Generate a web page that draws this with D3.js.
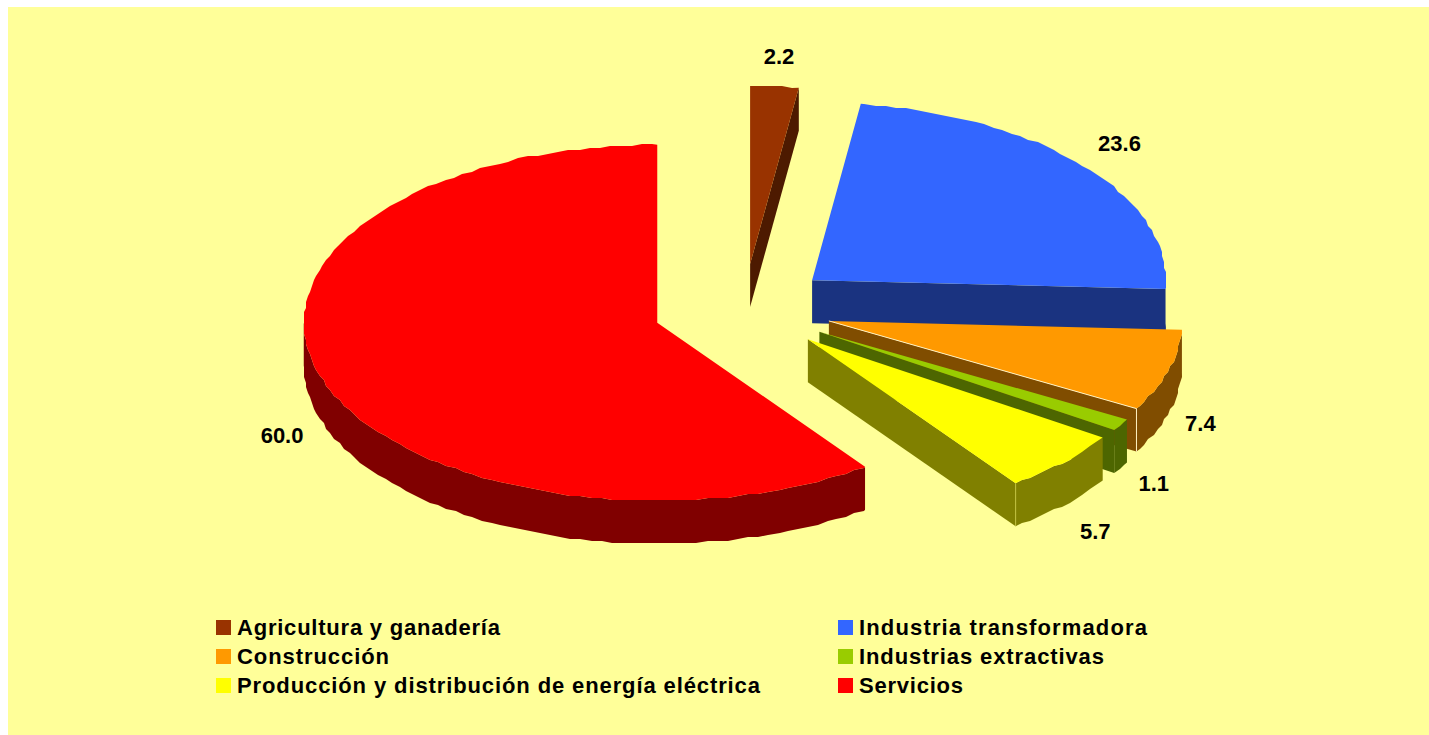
<!DOCTYPE html>
<html>
<head>
<meta charset="utf-8">
<script src="https://cdnjs.cloudflare.com/ajax/libs/d3/7.8.5/d3.min.js"></script>
<style>
html, body { margin: 0; padding: 0; background: #fff; }
svg { display: block; }
text { font-family: "Liberation Sans", Arial, sans-serif; font-weight: bold; fill: #000; }
</style>
</head>
<body>
<div id="chart"></div>
<script>
var categories = ["Agricultura y ganadería", "Industria transformadora", "Construcción", "Industrias extractivas", "Producción y distribución de energía eléctrica", "Servicios"];
var values = [2.2, 23.6, 7.4, 1.1, 5.7, 60.0];
var colors = ["#993300", "#3366FF", "#FF9900", "#99CC00", "#FFFF00", "#FF0000"];

// how far each slice is pulled out, as a fraction of the radius
var explode = [0.25, 0.25, 0.25, 0.25, 0.25, 0.258];
// value label shift from the middle of the rim
var labelDx = [4.5, 35, 32, 33, 32, -39];
var labelDy = [-30.5, -23, 53, 59, 69, 58];
// the legend text is spaced out to these widths
var legendWidths = [263, 288, 152, 245, 523, 104];
// thin light edges some of the slices have
var edgeColors = [null, null, "#FFF0C0", null, "#C0C040", null];

var width = 1429, height = 735;
var depth = 43;
var rimStep = 0.03;

var svg = d3.select("#chart").append("svg")
	.attr("width", width)
	.attr("height", height);

svg.append("rect")
	.attr("x", 8)
	.attr("y", 7)
	.attr("width", width - 8)
	.attr("height", height - 7)
	.style("fill", "#FFFF99");

// unit circle -> screen, the pie is flattened to an ellipse
var xScale = d3.scaleLinear().domain([-1, 1]).range([744 - 353.5, 744 + 353.5]);
var yScale = d3.scaleLinear().domain([-1, 1]).range([308.5 - 178, 308.5 + 178]);

var pie = d3.pie().sort(null).value(function(d) { return d; });
var slices = pie(values);

var line = d3.line();

function rimPoint(a, ox, oy) {
	return [xScale(Math.sin(a) + ox), yScale(-Math.cos(a) + oy)];
}

// rim points, rounded to a coarse grid so the curve is a bit stepped.
// the angles sit on one shared grid so top face and wall follow the same edge
function rim(a0, a1, ox, oy, drop) {
	var first = Math.ceil(a0 / rimStep + 0.01), last = Math.floor(a1 / rimStep - 0.01);
	var pts = d3.range(first, last + 1).map(function(k) {
		var p = rimPoint(k * rimStep, ox, oy);
		return [Math.round(p[0] / 2) * 2, Math.round(p[1] / 2) * 2 + drop];
	});
	var s = rimPoint(a0, ox, oy), e = rimPoint(a1, ox, oy);
	return [[s[0], s[1] + drop]].concat(pts, [[e[0], e[1] + drop]]);
}

slices.forEach(function(d, i) {
	var mid = (d.startAngle + d.endAngle) / 2;
	var ox = Math.sin(mid) * explode[i];
	var oy = -Math.cos(mid) * explode[i];
	d.labelAt = rimPoint(mid, ox, oy);
	var apex = [xScale(ox), yScale(oy)];
	var g = svg.append("g").attr("class", "slice");
	var dark = d3.rgb(colors[i]);
	dark = d3.rgb(dark.r / 2, dark.g / 2, dark.b / 2).formatHex();

	// cut face at the end of the slice
	var e = rimPoint(d.endAngle, ox, oy);
	if (Math.sin(d.endAngle) > 0.001) {
		g.append("path")
			.attr("d", line([apex, e, [e[0], e[1] + depth], [apex[0], apex[1] + depth]]) + "Z")
			.style("fill", dark);
	}
	// outer wall, only the part facing the viewer
	var a0 = Math.max(d.startAngle, Math.PI / 2);
	var a1 = Math.min(d.endAngle, 3 * Math.PI / 2);
	if (a1 > a0) {
		var top = rim(a0, a1, ox, oy, 0);
		var bottom = rim(a0, a1, ox, oy, depth).reverse();
		g.append("path")
			.attr("d", line(top.concat(bottom)) + "Z")
			.style("fill", dark);
	}
	// top face
	g.append("path")
		.attr("d", line([apex].concat(rim(d.startAngle, d.endAngle, ox, oy, 0))) + "Z")
		.style("fill", colors[i]);

	if (edgeColors[i]) {
		g.append("path")
			.attr("d", line([e, [e[0], e[1] + depth]]))
			.style("fill", "none")
			.style("stroke", edgeColors[i])
			.style("stroke-width", 1);
		if (i == 2) {
			g.append("path")
				.attr("d", line([apex, e]))
				.style("fill", "none")
				.style("stroke", edgeColors[i])
				.style("stroke-width", 1);
		}
	}
});

// value labels
svg.selectAll(".value")
	.data(slices)
	.enter().append("text")
	.attr("class", "value")
	.attr("x", function(d, i) { return d.labelAt[0] + labelDx[i]; })
	.attr("y", function(d, i) { return d.labelAt[1] + labelDy[i]; })
	.attr("dy", "0.35em")
	.attr("text-anchor", "middle")
	.style("font-size", "22px")
	.text(function(d) { return d.value.toFixed(1); });

// legend, two columns filled row by row
var legendX = d3.scalePoint().domain([0, 1]).range([216, 838]);
var legendY = d3.scalePoint().domain([0, 1, 2]).range([620, 678]);

var legend = svg.selectAll(".legend")
	.data(categories)
	.enter().append("g")
	.attr("class", "legend")
	.attr("transform", function(d, i) {
		return "translate(" + legendX(i % 2) + "," + legendY(Math.floor(i / 2)) + ")";
	});

legend.append("rect")
	.attr("width", 15)
	.attr("height", 15)
	.style("fill", function(d, i) { return colors[i]; });

legend.append("text")
	.attr("x", 21)
	.attr("y", 15)
	.attr("textLength", function(d, i) { return legendWidths[i]; })
	.attr("lengthAdjust", "spacing")
	.style("font-size", "22px")
	.text(function(d) { return d; });
</script>
</body>
</html>
